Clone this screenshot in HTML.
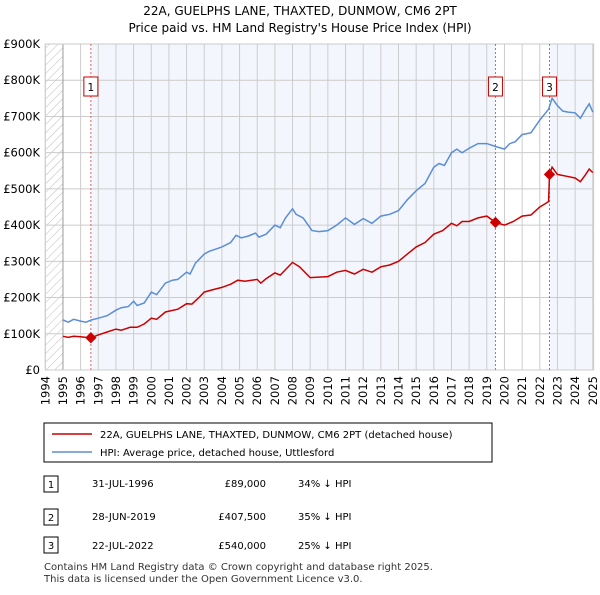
<!DOCTYPE html>
<html><head><meta charset="utf-8"><style>
body{margin:0;background:#fff;font-family:"Liberation Sans","DejaVu Sans",sans-serif;}
</style></head><body>
<svg width="600" height="590" viewBox="0 0 600 590" xmlns="http://www.w3.org/2000/svg" font-family="DejaVu Sans, Liberation Sans, sans-serif">
<text x="300" y="15" text-anchor="middle" font-size="12" fill="#000">22A, GUELPHS LANE, THAXTED, DUNMOW, CM6 2PT</text>
<text x="300" y="32" text-anchor="middle" font-size="12" fill="#000">Price paid vs. HM Land Registry's House Price Index (HPI)</text>
<defs><pattern id="hatch" width="6" height="6" patternUnits="userSpaceOnUse" patternTransform="rotate(45)"><line x1="0" y1="0" x2="0" y2="6" stroke="#bbb" stroke-width="1"/></pattern></defs>
<g id="plot"></g>
<g>
<rect x="44" y="423" width="448" height="39" fill="#fff" stroke="#000" stroke-width="1"/>
<line x1="52" y1="434" x2="92" y2="434" stroke="#cc0000" stroke-width="1.5"/>
<text x="100" y="438" font-size="10">22A, GUELPHS LANE, THAXTED, DUNMOW, CM6 2PT (detached house)</text>
<line x1="52" y1="452" x2="92" y2="452" stroke="#5b8ed6" stroke-width="1.5"/>
<text x="100" y="456" font-size="10">HPI: Average price, detached house, Uttlesford</text>
</g>
<g font-size="10">
<rect x="44" y="476" width="14" height="16" fill="#fff" stroke="#000"/><text x="51" y="488" text-anchor="middle">1</text>
<text x="92" y="487">31-JUL-1996</text><text x="266" y="487" text-anchor="end">£89,000</text><text x="298" y="487">34% ↓ HPI</text>
<rect x="44" y="509" width="14" height="16" fill="#fff" stroke="#000"/><text x="51" y="521" text-anchor="middle">2</text>
<text x="92" y="520">28-JUN-2019</text><text x="266" y="520" text-anchor="end">£407,500</text><text x="298" y="520">35% ↓ HPI</text>
<rect x="44" y="537" width="14" height="16" fill="#fff" stroke="#000"/><text x="51" y="549" text-anchor="middle">3</text>
<text x="92" y="549">22-JUL-2022</text><text x="266" y="549" text-anchor="end">£540,000</text><text x="298" y="549">25% ↓ HPI</text>
</g>
<text x="44" y="570" font-size="10" fill="#333">Contains HM Land Registry data © Crown copyright and database right 2025.</text>
<text x="44" y="582" font-size="10" fill="#333">This data is licensed under the Open Government Licence v3.0.</text>
</svg>
<script>
const yearTicks=[1994,1995,1996,1997,1998,1999,2000,2001,2002,2003,2004,2005,2006,2007,2008,2009,2010,2011,2012,2013,2014,2015,2016,2017,2018,2019,2020,2021,2022,2023,2024,2025];
const valueTicks=[0,100,200,300,400,500,600,700,800,900];
const valueLabels=["£0","£100K","£200K","£300K","£400K","£500K","£600K","£700K","£800K","£900K"];
const hpiX=[1995,1995.3,1995.6,1996,1996.3,1996.6,1997,1997.5,1998,1998.3,1998.7,1999,1999.2,1999.6,2000,2000.3,2000.8,2001.2,2001.5,2002,2002.2,2002.5,2003,2003.3,2003.6,2004,2004.5,2004.8,2005.1,2005.5,2005.9,2006.1,2006.5,2007,2007.3,2007.6,2008,2008.2,2008.6,2009.1,2009.5,2010,2010.5,2011,2011.5,2012,2012.5,2013,2013.5,2014,2014.5,2015,2015.5,2016,2016.3,2016.6,2017,2017.3,2017.6,2018,2018.5,2019,2019.5,2020,2020.3,2020.6,2021,2021.5,2022,2022.5,2022.7,2023,2023.3,2023.6,2024,2024.3,2024.6,2024.8,2025];
const hpiY=[138,132,140,135,132,138,143,150,165,172,175,190,178,185,215,208,240,248,250,270,265,295,320,328,333,340,352,372,365,370,378,367,375,400,393,420,445,430,420,385,382,385,400,420,402,418,405,425,430,440,470,495,515,560,570,565,600,610,600,612,625,625,617,610,625,630,650,655,690,720,750,730,715,712,710,695,720,735,712];
const ppX=[1995,1995.3,1995.6,1996,1996.3,1996.58,1997,1997.5,1998,1998.3,1998.8,1999.2,1999.6,2000,2000.3,2000.8,2001.5,2002,2002.3,2002.7,2003,2003.5,2004,2004.5,2004.9,2005.3,2006,2006.2,2006.5,2007,2007.3,2008,2008.4,2009,2010,2010.5,2011,2011.5,2012,2012.5,2013,2013.5,2014,2014.5,2015,2015.5,2016,2016.5,2017,2017.3,2017.6,2018,2018.5,2019,2019.49,2020,2020.5,2021,2021.5,2022,2022.5,2022.55,2022.7,2023,2023.5,2024,2024.3,2024.6,2024.8,2025];
const ppY=[93,90,93,92,90,89,97,105,113,110,118,118,127,143,140,160,168,183,182,200,215,222,228,237,248,245,250,240,252,268,262,297,285,255,258,270,275,265,278,270,285,290,300,320,340,352,375,385,405,398,410,410,420,425,407.5,400,410,425,428,450,465,540,560,540,535,530,520,540,555,545];
const saleX=[1996.58,2019.49,2022.55];
const saleY=[89,407.5,540];
const saleLabels=["1","2","3"];

const X0=45.3,PX=17.66,Y0=370,PY=0.3622;
const sx=v=>X0+(v-1994)*PX, sy=v=>Y0-v*PY;
const NS="http://www.w3.org/2000/svg";
const g=document.getElementById('plot');
function mk(t,a){const e=document.createElementNS(NS,t);for(const k in a)e.setAttribute(k,a[k]);g.appendChild(e);return e;}
const L=sx(1994),R=sx(2025.05),T=sy(900);
// shading
let e=mk('rect',{x:sx(saleX[0]),y:T,width:sx(saleX[1])-sx(saleX[0]),height:Y0-T,fill:'#eef3fc',opacity:0.7});

e=mk('rect',{x:sx(saleX[2]),y:T,width:R-sx(saleX[2]),height:Y0-T,fill:'#eef3fc',opacity:0.7});

e=mk('rect',{x:L,y:T,width:sx(1995)-L,height:Y0-T,fill:'url(#hatch)'});

// grid
valueTicks.forEach((v,i)=>{
 const l=mk('line',{x1:L,x2:R,y1:sy(v),y2:sy(v),stroke:'#cccccc','stroke-width':1});
 
 const t=mk('text',{x:40,y:sy(v)+4,'text-anchor':'end','font-size':11.5});t.textContent=valueLabels[i];
 
});
yearTicks.forEach(y=>{
 const l=mk('line',{x1:sx(y),x2:sx(y),y1:T,y2:Y0,stroke:y==1995?'#999':'#cccccc','stroke-width':1});
 
 const t=mk('text',{x:0,y:0,'text-anchor':'end','font-size':11.5,transform:`translate(${sx(y)+4},376) rotate(-90)`});t.textContent=y;
 
});
e=mk('rect',{x:L,y:T,width:R-L,height:Y0-T,fill:'none',stroke:'#cccccc'});

// sale vlines & labels
saleX.forEach((x,i)=>{
 const l=mk('line',{x1:sx(x),x2:sx(x),y1:T,y2:Y0,stroke:'#e06060','stroke-dasharray':'2,2','stroke-width':1});
 
 const r=mk('rect',{x:sx(x)-7,y:77,width:14,height:19,fill:'#fff',stroke:'#cc0000'});
 
 const t=mk('text',{x:sx(x),y:91,'text-anchor':'middle','font-size':10.5});t.textContent=saleLabels[i];
 
});
// lines
const path=(xs,ys)=>xs.map((x,i)=>(i?'L':'M')+sx(x).toFixed(1)+','+sy(ys[i]).toFixed(1)).join('');
e=mk('path',{d:path(hpiX,hpiY),fill:'none',stroke:'#5b8ed6','stroke-width':1.5});

e=mk('path',{d:path(ppX,ppY),fill:'none',stroke:'#cc0000','stroke-width':1.5});

saleX.forEach((x,i)=>{
 const c=mk('rect',{x:sx(x)-4,y:sy(saleY[i])-4,width:8,height:8,fill:'#cc0000',transform:`rotate(45 ${sx(x)} ${sy(saleY[i])})`});
 
});
</script>
</body></html>
